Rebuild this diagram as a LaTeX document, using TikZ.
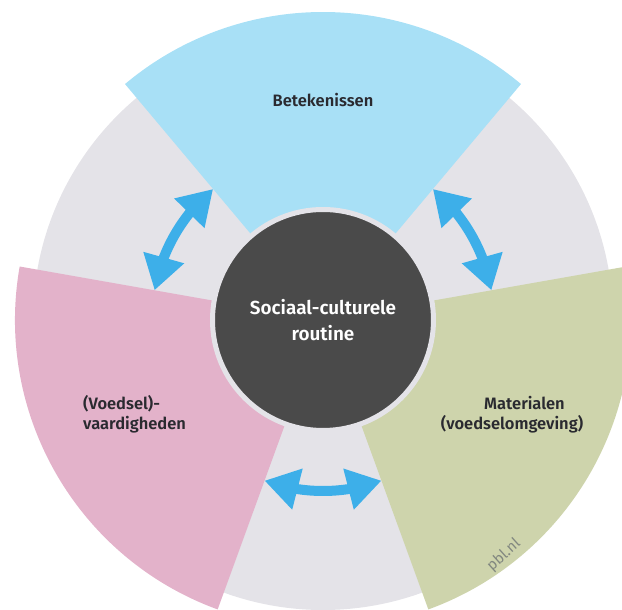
\documentclass[tikz,border=0pt]{standalone}
\usepackage{fontspec}
\setmainfont{Fira Sans}[BoldFont={Fira Sans SemiBold}]
\usetikzlibrary{arrows.meta,bending}
\definecolor{greybg}{RGB}{228,227,232}
\definecolor{bluesec}{RGB}{168,224,246}
\definecolor{pinksec}{RGB}{227,178,202}
\definecolor{greensec}{RGB}{206,212,172}
\definecolor{darkcore}{RGB}{74,74,74}
\definecolor{arrowblue}{RGB}{61,175,233}
\definecolor{labeltext}{RGB}{42,42,48}
\definecolor{pblgrey}{RGB}{130,136,128}
\begin{document}
\begin{tikzpicture}[x=1pt,y=1pt,
  label/.style={text=labeltext,font=\bfseries\fontsize{16.5}{20.5}\selectfont,inner sep=0pt},
  dbl/.style={draw=arrowblue,line width=10pt,{Triangle[width=40pt,length=34pt]}-{Triangle[width=40pt,length=34pt]}},
  core/.style={circle,fill=darkcore,draw=greybg,line width=5pt,minimum size=221pt,inner sep=0pt,
    text=white,align=center,font=\bfseries\fontsize{18.9}{26}\selectfont}]
\useasboundingbox (-323,-290) rectangle (299,320);
\clip (-323,-290) rectangle (299,320);
\fill[greybg] (0,0) circle[radius=290];
\fill[bluesec] (0,0) -- (50:308) arc[start angle=50,end angle=130,radius=308] -- cycle;
\fill[pinksec] (0,0) -- (170:308) arc[start angle=170,end angle=250,radius=308] -- cycle;
\fill[greensec] (0,0) -- (-70:308) arc[start angle=-70,end angle=10,radius=308] -- cycle;
\node[core] (core) at (0,0) {Sociaal-culturele\\routine};
\coordinate (a1) at (170:171);
\coordinate (a2) at (10:171);
\coordinate (a3) at (250:171);
\draw[dbl] (a1) arc[start angle=170,end angle=130,radius=171];
\draw[dbl] (a2) arc[start angle=10,end angle=50,radius=171];
\draw[dbl] (a3) arc[start angle=250,end angle=290,radius=171];
\node[label] (bet) at (0,220) {Betekenissen};
\node[label,anchor=west,align=left] (voed) at (-240,-94.5) {(Voedsel)-\\vaardigheden};
\node[label] (mat1) at (201.5,-83) {Materialen};
\node[label] (mat2) at (189,-104) {(voedselomgeving)};
\node[text=pblgrey,font=\fontsize{15}{17}\selectfont,rotate=42,inner sep=0pt] (pbl) at (181,-235) {pbl.nl};
\end{tikzpicture}
\end{document}
